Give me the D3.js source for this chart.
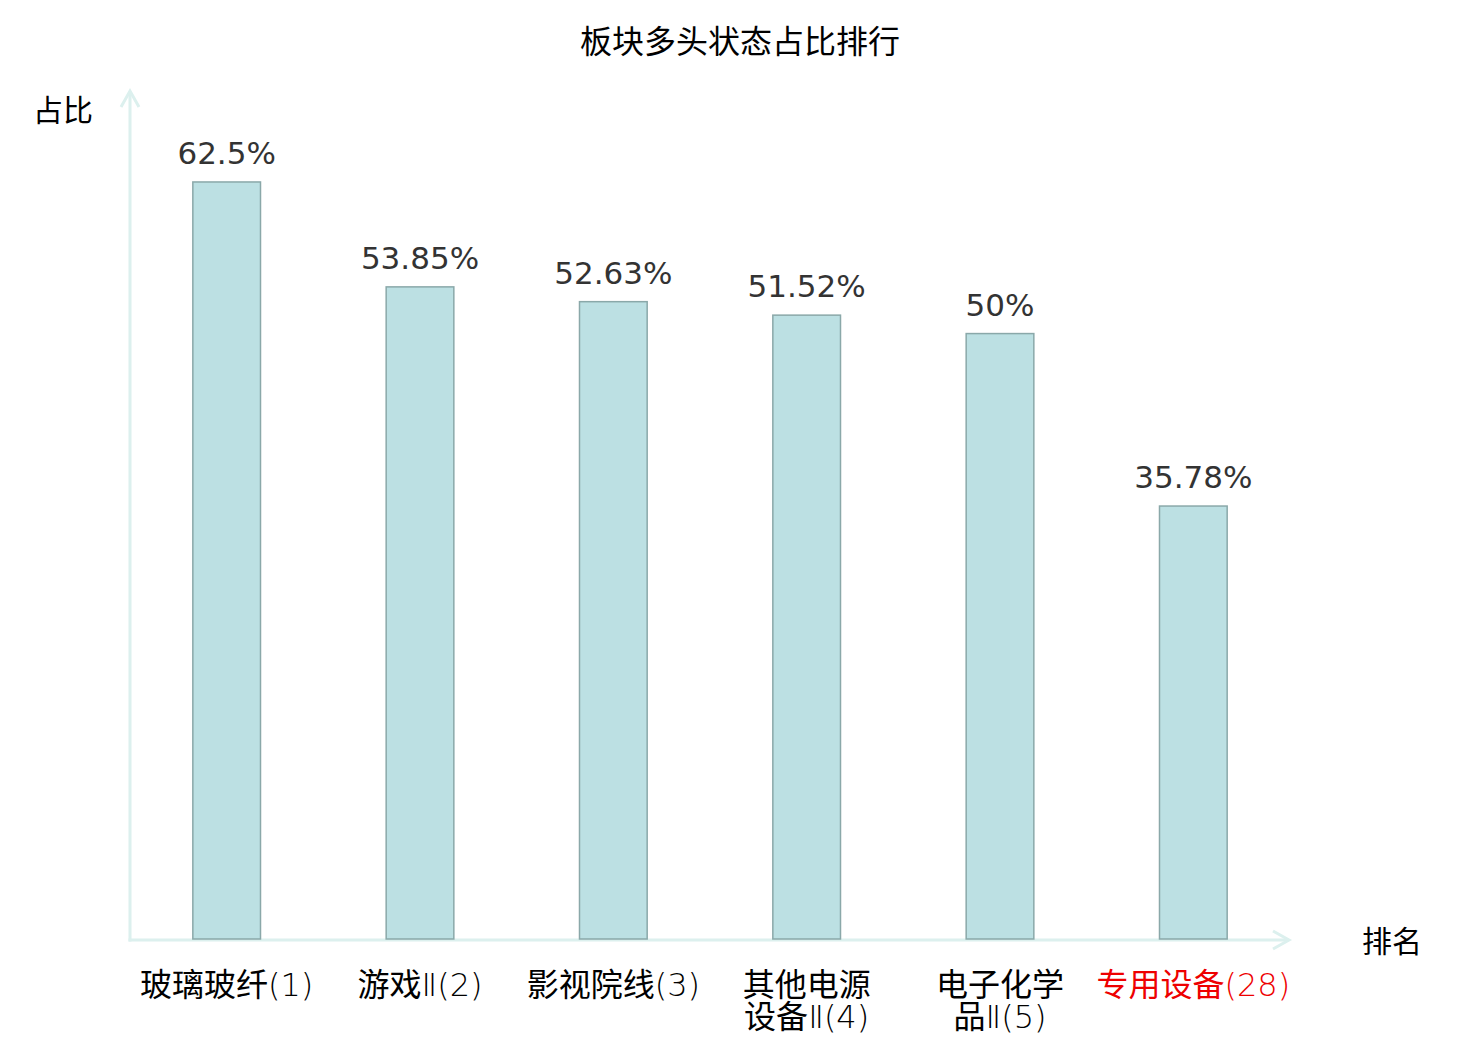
<!DOCTYPE html>
<html>
<head>
<meta charset="utf-8">
<script src="https://cdn.jsdelivr.net/npm/d3@7"></script>
<style>
  body { margin: 0; background: #fff; }
  text { font-family: "Noto Sans CJK SC", "DejaVu Sans", sans-serif; }
</style>
</head>
<body>
<script>
const categories = ["玻璃玻纤(1)", "游戏Ⅱ(2)", "影视院线(3)", "其他电源设备Ⅱ(4)", "电子化学品Ⅱ(5)", "专用设备(28)"];
const values = [62.5, 53.85, 52.63, 51.52, 50, 35.78];
const valueLabels = ["62.5%", "53.85%", "52.63%", "51.52%", "50%", "35.78%"];
const highlight = [false, false, false, false, false, true];

const width = 1480, height = 1040;
const x0 = 130, y0 = 940;

const svg = d3.select("body").append("svg")
    .attr("width", width)
    .attr("height", height);

const x = d3.scaleBand()
    .domain(categories)
    .range([x0, 1290])
    .paddingInner(0.65)
    .paddingOuter(0.325);

const y = d3.scaleLinear()
    .domain([0, 70])
    .range([y0, 91]);

// title
svg.append("text")
    .attr("x", 740).attr("y", 53)
    .attr("text-anchor", "middle")
    .style("font-size", "32px")
    .style("fill", "#000")
    .text("板块多头状态占比排行");

// axes
const axisColor = "#dcf0ee";
svg.append("line")
    .attr("x1", x0).attr("y1", y0 + 1.5)
    .attr("x2", x0).attr("y2", y(70))
    .style("stroke", axisColor).style("stroke-width", 3);
svg.append("path")
    .attr("d", `M${x0 - 9},${y(70) + 16}L${x0},${y(70)}L${x0 + 9},${y(70) + 16}`)
    .style("fill", "none").style("stroke", axisColor).style("stroke-width", 3);
svg.append("line")
    .attr("x1", x0 - 1.5).attr("y1", y0)
    .attr("x2", 1289).attr("y2", y0)
    .style("stroke", axisColor).style("stroke-width", 3);
svg.append("path")
    .attr("d", `M1273,${y0 - 9}L1289,${y0}L1273,${y0 + 9}`)
    .style("fill", "none").style("stroke", axisColor).style("stroke-width", 3);

svg.append("text")
    .attr("x", 63).attr("y", 121)
    .attr("text-anchor", "middle")
    .style("font-size", "30px")
    .text("占比");
svg.append("text")
    .attr("x", 1392).attr("y", 952)
    .attr("text-anchor", "middle")
    .style("font-size", "30px")
    .text("排名");

// bars
svg.selectAll("rect.bar")
    .data(values)
    .join("rect")
    .attr("class", "bar")
    .attr("x", (d, i) => x(categories[i]))
    .attr("y", d => y(d))
    .attr("width", x.bandwidth())
    .attr("height", d => y0 - 1 - y(d))
    .style("fill", "#bce0e3")
    .style("stroke", "#8aa8a9")
    .style("stroke-width", 1.5);

// value labels
svg.selectAll("text.val")
    .data(values)
    .join("text")
    .attr("class", "val")
    .attr("x", (d, i) => x(categories[i]) + x.bandwidth() / 2)
    .attr("y", d => y(d) - 18)
    .attr("text-anchor", "middle")
    .style("font-family", "'DejaVu Sans', sans-serif")
    .style("font-size", "31px")
    .style("fill", "#333")
    .text((d, i) => valueLabels[i]);

// category labels: long names break after the first four characters,
// han characters in the CJK face, the rest in a thin latin face
categories.forEach((c, i) => {
  const chars = Array.from(c);
  const lines = chars.length > 8
      ? [chars.slice(0, 4).join(""), chars.slice(4).join("")]
      : [c];
  lines.forEach((l, k) => {
    const m = l.match(/^([\u4e00-\u9fff]*)(.*)$/);
    const t = svg.append("text")
        .attr("x", x(c) + x.bandwidth() / 2)
        .attr("y", 996 + k * 32)
        .attr("text-anchor", "middle")
        .style("font-size", "32px")
        .style("fill", highlight[i] ? "#e00" : "#000");
    t.append("tspan").text(m[1]);
    if (m[2]) {
      t.append("tspan")
          .style("font-family", "'DejaVu Sans', sans-serif")
          .style("font-weight", 200)
          .text(m[2]);
    }
  });
});
</script>
</body>
</html>
